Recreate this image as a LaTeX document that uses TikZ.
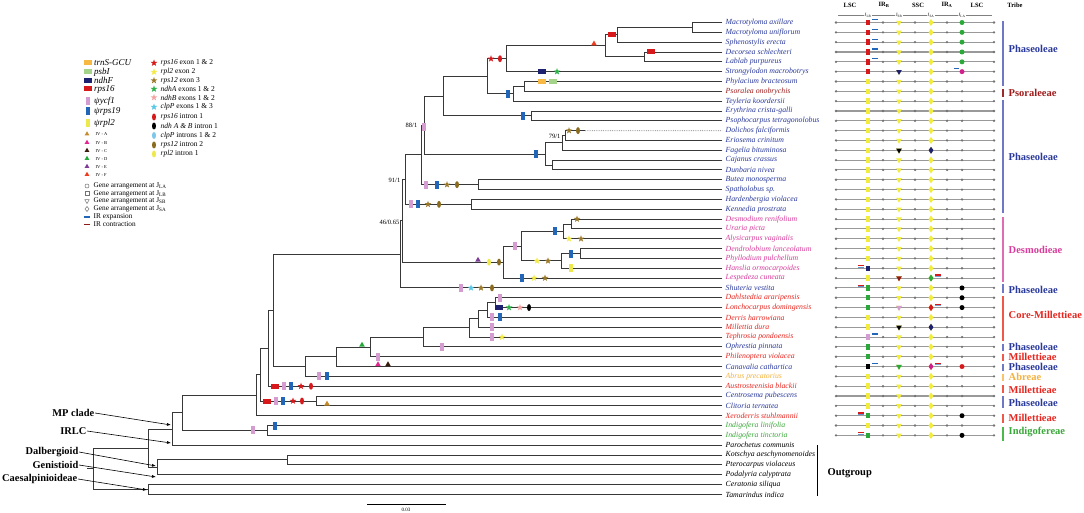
\documentclass[tikz,border=0pt]{standalone}
\usepackage{fontspec}
\setmainfont{Liberation Serif}
\usetikzlibrary{shapes.geometric,arrows.meta}
\definecolor{cPha}{HTML}{2A3A9C}
\definecolor{cPso}{HTML}{A01C1C}
\definecolor{cDes}{HTML}{D83C9C}
\definecolor{cMil}{HTML}{E8261F}
\definecolor{cAbr}{HTML}{F5B13D}
\definecolor{cInd}{HTML}{3AA83A}
\definecolor{bPha}{HTML}{6F78C4}
\definecolor{bPso}{HTML}{9B2B2B}
\definecolor{bDes}{HTML}{E06DB4}
\definecolor{bMil}{HTML}{EE5A4A}
\definecolor{bAbr}{HTML}{F8C46A}
\definecolor{bInd}{HTML}{4DB84D}
\definecolor{ctrnS}{HTML}{F7B844}
\definecolor{cpsbI}{HTML}{A5D38A}
\definecolor{cndhF}{HTML}{1E2170}
\definecolor{crps16}{HTML}{D7191C}
\definecolor{cycf}{HTML}{D59CD2}
\definecolor{crps19}{HTML}{2166B8}
\definecolor{crpl2}{HTML}{EDE84B}
\definecolor{cIVA}{HTML}{C48A2C}
\definecolor{cIVB}{HTML}{E4248F}
\definecolor{cIVC}{HTML}{3B1B0B}
\definecolor{cIVD}{HTML}{25A83A}
\definecolor{cIVE}{HTML}{7D3C98}
\definecolor{cIVF}{HTML}{F03C1E}
\definecolor{cspl2}{HTML}{F3EB45}
\definecolor{cs12}{HTML}{9C7A2B}
\definecolor{cndhA}{HTML}{2DB34A}
\definecolor{cndhB}{HTML}{F5A3A3}
\definecolor{cclp}{HTML}{5BC8E8}
\definecolor{ceclp}{HTML}{7EC6EA}
\definecolor{ce12}{HTML}{8B6B1E}
\definecolor{cY}{HTML}{F2EC3C}
\definecolor{cGr}{HTML}{2AA83A}
\definecolor{cMag}{HTML}{D0208C}
\definecolor{cDR}{HTML}{8E1B1B}
\begin{document}
\begin{tikzpicture}[x=1pt,y=-1pt,
  br/.style={line width=0.9pt, draw=black!78, line cap=rect},
  leaf/.style={anchor=west, inner sep=0.5pt, font=\fontsize{7.8}{9}\selectfont\itshape},
  mk/.style={inner sep=0pt, outer sep=0pt, draw=none},
  hr/.style={mk, rectangle, minimum width=7.5pt, minimum height=5pt},
  vr/.style={mk, rectangle, minimum width=4pt, minimum height=8pt},
  tri/.style={mk, regular polygon, regular polygon sides=3, minimum size=6.5pt},
  st/.style={mk, star, star points=5, star point ratio=2.4, minimum size=7pt},
  el/.style={mk, ellipse, minimum width=4pt, minimum height=7pt},
  sup/.style={anchor=east, inner sep=0.5pt, font=\fontsize{6.5}{7}\selectfont},
  mline/.style={draw=black!40, line width=1.1pt},
  mdot/.style={fill=black!55},
  jlb/.style={mk, rectangle, minimum width=4.8pt, minimum height=5.5pt},
  jsb/.style={mk, regular polygon, regular polygon sides=3, shape border rotate=180, minimum size=6.5pt},
  jsa/.style={mk, diamond, minimum width=5pt, minimum height=7pt},
  jla/.style={mk, circle, minimum size=5pt},
  hdr/.style={inner sep=0.5pt, font=\fontsize{6.5}{7}\selectfont\bfseries},
  jlab/.style={inner sep=0.5pt, font=\fontsize{4.8}{5}\selectfont},
  tribe/.style={anchor=west, inner sep=0.5pt, font=\fontsize{10.5}{11}\selectfont\bfseries},
  clade/.style={anchor=east, inner sep=0.5pt, font=\fontsize{10.4}{11}\selectfont\bfseries},
  arr/.style={draw=black, line width=0.6pt, -{Latex[length=4pt,width=3pt]}},
  lg1/.style={anchor=west, inner sep=0pt, font=\fontsize{9}{9}\selectfont\itshape},
  lg2/.style={anchor=west, inner sep=0.5pt, font=\fontsize{7.5}{8}\selectfont},
  lg3/.style={anchor=west, inner sep=0.5pt, font=\fontsize{4.5}{5}\selectfont},
  lg4/.style={anchor=west, inner sep=0.5pt, font=\fontsize{7.3}{8}\selectfont},
  gsym/.style={mk, draw=black!55, line width=0.5pt, fill=white},
  expd/.style={draw=crps19, line width=1.3pt},
  cond/.style={draw=crps16, line width=1.3pt}
]
\useasboundingbox (0,0) rectangle (1084,513);
\fill[white] (0,0) rectangle (1084,513);

% ---------- leaves ----------
\foreach \i/\nm/\c in {1/Macrotyloma axillare/cPha,2/Macrotyloma uniflorum/cPha,3/Sphenostylis erecta/cPha,4/Decorsea schlechteri/cPha,5/Lablab purpureus/cPha,6/Strongylodon macrobotrys/cPha,7/Phylacium bracteosum/cPha,8/Psoralea onobrychis/cPso,9/Teyleria koordersii/cPha,10/Erythrina crista-galli/cPha,11/Psophocarpus tetragonolobus/cPha,12/Dolichos falciformis/cPha,13/Eriosema crinitum/cPha,14/Fagelia bituminosa/cPha,15/Cajanus crassus/cPha,16/Dunbaria nivea/cPha,17/Butea monosperma/cPha,18/Spatholobus sp./cPha,19/Hardenbergia violacea/cPha,20/Kennedia prostrata/cPha,21/Desmodium renifolium/cDes,22/Uraria picta/cDes,23/Alysicarpus vaginalis/cDes,24/Dendrolobium lanceolatum/cDes,25/Phyllodium pulchellum/cDes,26/Hanslia ormocarpoides/cDes,27/Lespedeza cuneata/cDes,28/Shuteria vestita/cPha,29/Dahlstedtia araripensis/cMil,30/Lonchocarpus domingensis/cMil,31/Derris harrowiana/cMil,32/Millettia dura/cMil,33/Tephrosia pondoensis/cMil,34/Ophrestia pinnata/cPha,35/Philenoptera violacea/cMil,36/Canavalia cathartica/cPha,37/Abrus precatorius/cAbr,38/Austrosteenisia blackii/cMil,39/Centrosema pubescens/cPha,40/Clitoria ternatea/cPha,41/Xeroderris stuhlmannii/cMil,42/Indigofera linifolia/cInd,43/Indigofera tinctoria/cInd,44/Parochetus communis/black,45/Kotschya aeschynomenoides/black,46/Pterocarpus violaceus/black,47/Podalyria calyptrata/black,48/Ceratonia siliqua/black,49/Tamarindus indica/black}{
  \coordinate (l\i) at (722,{22.5+(\i-1)*9.83});
  \node[leaf, text=\c] (t\i) at (725,{22.5+(\i-1)*9.83}) {\nm};
}

% ---------- internal nodes ----------
\coordinate (R) at (93,468.8);
\coordinate (Rs) at (87,468.8);
\coordinate (N148a) at (148,448.1);
\coordinate (N148b) at (148,489.4);
\coordinate (N172) at (172,429.0);
\coordinate (N157) at (157,467.3);
\coordinate (N182) at (182,412.8);
\coordinate (N287) at (287,459.9);
\coordinate (N256) at (256,395.2);
\coordinate (N267) at (267,430.4);
\coordinate (N260) at (260,374.7);
\coordinate (N268) at (268,348.4);
\coordinate (N316) at (316,401.0);
\coordinate (N273) at (273,310.5);
\coordinate (N305) at (305,366.6);
\coordinate (N336) at (336,356.8);
\coordinate (N370) at (370,347.0);
\coordinate (N423b) at (423,337.4);
\coordinate (N469) at (469,327.8);
\coordinate (N478b) at (478,318.6);
\coordinate (N487b) at (487,310.0);
\coordinate (N495) at (495,302.66);
\coordinate (Z) at (400,254.4);
\coordinate (N46) at (402,220.85);
\coordinate (N503) at (503,262.1);
\coordinate (N521) at (521,246.1);
\coordinate (N563b) at (563,231.4);
\coordinate (N571) at (571,224.0);
\coordinate (N561) at (561,260.9);
\coordinate (N580) at (580,253.5);
\coordinate (N91) at (405,179.6);
\coordinate (N471) at (471,204.36);
\coordinate (NX) at (421,154.85);
\coordinate (N478) at (478,184.7);
\coordinate (N88) at (424,125.0);
\coordinate (N545) at (545,153.97);
\coordinate (N563) at (562,142.9);
\coordinate (N565) at (565,135.5);
\coordinate (N552) at (552,165.0);
\coordinate (N443) at (443,96.08);
\coordinate (N531) at (531,115.9);
\coordinate (N487) at (487,76.26);
\coordinate (N513) at (513,93.77);
\coordinate (N524) at (524,86.4);
\coordinate (N506) at (506,58.75);
\coordinate (N605) at (605,45.85);
\coordinate (N617) at (617,34.8);
\coordinate (N644) at (644,56.9);
\coordinate (N692) at (692,27.4);
\coordinate (d12) at (585,130.63);

% ---------- branches ----------
\draw[br] (Rs) -- (R);
\foreach \p/\c in {R/N148a,R/N148b,N148a/N172,N148a/N157,N172/N182,N172/l44,N182/N256,N182/N267,N267/l42,N267/l43,N157/N287,N157/l47,N287/l45,N287/l46,N148b/l48,N148b/l49,N256/N260,N256/l41,N260/N268,N260/N316,N316/l39,N316/l40,N268/N273,N268/l38,N273/Z,N273/N305,N305/N336,N305/l37,N336/N370,N336/l36,N370/N423b,N370/l35,N423b/N469,N423b/l34,N469/N478b,N469/l33,N478b/N487b,N478b/l32,N487b/N495,N487b/l31,N495/l29,N495/l30,Z/N46,Z/l28,N46/N91,N46/N503,N503/N521,N503/l27,N521/N563b,N521/N561,N563b/N571,N563b/l23,N571/l21,N571/l22,N561/N580,N561/l26,N580/l24,N580/l25,N91/NX,N91/N471,N471/l19,N471/l20,NX/N88,NX/N478,N478/l17,N478/l18,N88/N443,N88/N545,N545/N563,N545/N552,N552/l15,N552/l16,N563/N565,N563/l14,N565/d12,N565/l13,N443/N487,N443/N531,N531/l10,N531/l11,N487/N506,N487/N513,N513/N524,N513/l9,N524/l7,N524/l8,N506/N605,N506/l6,N605/N617,N605/N644,N644/l4,N644/l5,N617/N692,N617/l3,N692/l1,N692/l2}{
  \draw[br] (\p) |- (\c);
}
\draw[draw=black!35, line width=0.8pt, densely dotted] (d12) -- (l12);

% ---------- support values ----------
\node[sup] (s88) at (418,125) {88/1};
\node[sup] (s91) at (401,180) {91/1};
\node[sup] (s46) at (400,222) {46/0.65};
\node[sup] (s79) at (561,136) {79/1};

% ---------- branch markers ----------
\foreach \s/\c/\x/\y [count=\n] in {hr/crps16/612/34.8,hr/crps16/651/52.0,tri/cIVF/594/43.8,st/crps16/491/58.75,el/crps16/500/58.75,hr/cndhF/542/71.65,st/cndhA/557/71.65,vr/crps19/508/93.77,hr/ctrnS/542/81.48,hr/cpsbI/553/81.48,vr/crps19/523/115.9,vr/cycf/423.5/127,vr/crps19/536/153.97,st/cs12/569/130.63,el/ce12/578/130.63,vr/cycf/426/184.7,vr/crps19/437/184.7,st/cs12/447/184.7,el/ce12/457/184.7,vr/cycf/411/204.36,vr/crps19/418/204.36,st/cs12/428/204.36,el/ce12/439/204.36,tri/cIVE/478/260.1,el/crpl2/489/262.1,el/ce12/499/262.1,vr/cycf/515/246.1,vr/crps19/555/231.4,st/cs12/577/219.1,st/cspl2/569/238.76,st/cs12/581/238.76,st/cspl2/537/260.9,st/cs12/548/260.9,vr/crps19/571/253.5,vr/crpl2/571/268.25,vr/crps19/522/278.08,st/cspl2/534/278.08,st/cs12/545/278.08,vr/cycf/461/287.91,st/cclp/471/287.91,st/cs12/481/287.91,el/ce12/492/287.91,vr/cycf/500/297.74,hr/cndhF/499/307.57,st/cndhA/509/307.57,st/cndhB/520/307.57,el/black/529/307.57,vr/cycf/492/317.4,vr/crps19/500/317.4,vr/cycf/492/327.23,vr/cycf/492/337.06,st/cspl2/502/337.06,vr/cycf/442/346.89,tri/cIVD/362/345.0,vr/cycf/378/356.72,tri/cIVB/378/364.55,tri/cIVC/388/364.55,vr/cycf/319/376.38,vr/crps19/327/376.38,hr/crps16/275/386.21,vr/cycf/284/386.21,vr/crps19/291/386.21,st/crps16/301/386.21,el/crps16/311/386.21,hr/crps16/267/401.0,vr/cycf/276/401.0,vr/crps19/283/401.0,st/crps16/293/401.0,el/crps16/302/401.0,tri/cIVA/327/403.9,vr/cycf/253/430.4,vr/crps19/275/425.53}{
  \node[\s, fill=\c] (mk\n) at (\x,\y) {};
}

% ---------- matrix ----------
\foreach \i in {1,...,43}{
  \pgfmathsetmacro\yy{22.5+(\i-1)*9.83}
  \draw[mline] (836,\yy) -- (994,\yy);
  \foreach \xx in {836,868,883,899,915,931,947,962,994} \fill[mdot] (\xx,\yy) circle (1.3);
  \node[jlb, fill=cY] (ja\i) at (868,\yy) {};
  \node[jsb, fill=cY] (jb\i) at (899,\yy) {};
  \node[jsa, fill=cY] (jc\i) at (931,\yy) {};
}
% J_LB overrides
\foreach \i/\c in {1/crps16,2/crps16,3/crps16,4/crps16,5/crps16,6/crps16,26/cndhF,28/cGr,29/cGr,30/cGr,33/cycf,34/cGr,35/cGr,36/black,41/cGr,43/cGr}{
  \node[jlb, fill=\c] (oa\i) at (868,{22.5+(\i-1)*9.83}) {};
}
% J_SB overrides
\foreach \i/\c in {6/cndhF,14/black,27/cDR,30/cycf,32/black,36/cGr}{
  \node[jsb, fill=\c] (ob\i) at (899,{22.5+(\i-1)*9.83}) {};
}
% J_SA overrides
\foreach \i/\c in {14/cndhF,27/cGr,30/crps16,32/cndhF,36/cMag}{
  \node[jsa, fill=\c] (oc\i) at (931,{22.5+(\i-1)*9.83}) {};
}
% J_LA markers
\foreach \i/\c in {1/cGr,2/cGr,3/cGr,4/cGr,5/cGr,6/cMag,28/black,29/black,30/black,36/crps16,41/black,43/black}{
  \node[jla, fill=\c] (od\i) at (962,{22.5+(\i-1)*9.83}) {};
}
% IR expansion dashes (right of J_LB)
\foreach \i in {1,2,3,4,5,33,36}{
  \draw[expd] (872,{22.5+(\i-1)*9.83-3}) -- (878,{22.5+(\i-1)*9.83-3});
}
% IR contraction dashes (left of J_LB)
\foreach \i in {26,28,41,43}{
  \draw[draw=crps19!70, line width=0.8pt] (858,{22.5+(\i-1)*9.83-1.2}) -- (864,{22.5+(\i-1)*9.83-1.2});
  \draw[cond] (858,{22.5+(\i-1)*9.83-2.6}) -- (864,{22.5+(\i-1)*9.83-2.6});
}
% dashes at J_SA
\foreach \i in {27,30,36}{
  \draw[draw=crps19!60, line width=0.8pt] (935,{22.5+(\i-1)*9.83-1.8}) -- (941,{22.5+(\i-1)*9.83-1.8});
  \draw[cond] (935,{22.5+(\i-1)*9.83-3.2}) -- (941,{22.5+(\i-1)*9.83-3.2});
}
% dash at J_LA row 6
\draw[expd] (954,{22.5+5*9.83-3}) -- (959,{22.5+5*9.83-3});

% ---------- header ----------
\node[hdr] (hL1) at (850,5) {LSC};
\node[hdr] (hIRB) at (884,5) {IR\textsubscript{B}};
\node[hdr] (hSSC) at (918,5) {SSC};
\node[hdr] (hIRA) at (947,5) {IR\textsubscript{A}};
\node[hdr] (hL2) at (977,5) {LSC};
\node[hdr] (hT) at (1015,5) {Tribe};
\node[jlab] (jLB) at (868,15) {J\textsubscript{LB}};
\node[jlab] (jSB) at (899,15) {J\textsubscript{SB}};
\node[jlab] (jSA) at (931,15) {J\textsubscript{SA}};
\node[jlab] (jLA) at (962,15) {J\textsubscript{LA}};
\coordinate (h0) at (838,15);
\coordinate (h9) at (992,15);
\draw[black!50, line width=0.6pt] (h0) -- (jLB.west);
\draw[black!50, line width=0.6pt] (jLB.east) -- (jSB.west);
\draw[black!50, line width=0.6pt] (jSB.east) -- (jSA.west);
\draw[black!50, line width=0.6pt] (jSA.east) -- (jLA.west);
\draw[black!50, line width=0.6pt] (jLA.east) -- (h9);

% ---------- tribes ----------
\foreach \a/\b/\m/\bc/\tc/\nm [count=\n] in {21/86/49/bPha/cPha/Phaseoleae,89/97/93/bPso/cPso/Psoraleeae,100/213/157/bPha/cPha/Phaseoleae,217/282/250/bDes/cDes/Desmodieae,284/293/290/bPha/cPha/Phaseoleae,296/341/315/bMil/cMil/Core-Millettieae,344/351/347/bPha/cPha/Phaseoleae,354/361/357/bMil/cMil/Millettieae,364/371/367/bPha/cPha/Phaseoleae,374/381/377/bAbr/cAbr/Abreae,385/393/390/bMil/cMil/Millettieae,396/408/403/bPha/cPha/Phaseoleae,414/423/418/bMil/cMil/Millettieae,427/441/432/bInd/cInd/Indigofereae}{
  \draw[draw=\bc, line width=2pt] (1003,\a) -- (1003,\b);
  \node[tribe, text=\tc] (tr\n) at (1008,\m) {\nm};
}
\coordinate (og1) at (817,445);
\coordinate (og2) at (817,496);
\draw[black, line width=1pt] (og1) -- (og2);
\node[tribe] (ogl) at (827,473) {Outgroup};

% ---------- clade labels ----------
\node[clade] (cMP) at (95,413) {MP clade};
\node[clade] (cIR) at (87,431) {IRLC};
\node[clade] (cDal) at (79,452) {Dalbergioid};
\node[clade] (cGen) at (79,465) {Genistioid};
\node[clade] (cCae) at (78,479) {Caesalpinioideae};
\coordinate (aMP) at (171,425);
\coordinate (aIR) at (171,443);
\coordinate (aDal) at (156,466);
\coordinate (aGen) at (156,477);
\coordinate (aCae) at (147,490);
\draw[arr] (cMP.east) -- (aMP);
\draw[arr] (cIR.east) -- (aIR);
\draw[arr] (cDal.east) -- (aDal);
\draw[arr] (cGen.east) -- (aGen);
\draw[arr] (cCae.east) -- (aCae);

% ---------- scale bar ----------
\coordinate (sb1) at (367,504);
\coordinate (sb2) at (446,504);
\draw[black, line width=0.8pt] (sb1) -- (sb2);
\node[inner sep=0.5pt, font=\fontsize{5}{6}\selectfont] (sbl) at (406,510) {0.03};

% ---------- legend ----------
\foreach \s/\c/\y/\t [count=\n] in {hr/ctrnS/63/trnS-GCU,hr/cpsbI/72/psbI,hr/cndhF/80.5/ndhF,hr/crps16/89/rps16,vr/cycf/101/ψycf1,vr/crps19/111.5/ψrps19,vr/crpl2/123/ψrpl2}{
  \node[\s, fill=\c] (lga\n) at (88,\y) {};
  \node[lg1] (lgt\n) at (94,\y) {\t};
}
\foreach \c/\y/\t [count=\n] in {cIVA/134/IV - A,cIVB/142.5/IV - B,cIVC/150.5/IV - C,cIVD/158.5/IV - D,cIVE/166.5/IV - E,cIVF/174.5/IV - F}{
  \node[tri, fill=\c, minimum size=5.5pt] (lgb\n) at (87,\y) {};
  \node[lg3] (lgu\n) at (95,\y+0.5) {\t};
}
\node[gsym, circle, minimum size=4pt] (g1) at (87,186) {};
\node[lg4] (gt1) at (93,186) {Gene arrangement at J\textsubscript{LA}};
\node[gsym, rectangle, minimum width=3.6pt, minimum height=3.6pt] (g2) at (87,193.5) {};
\node[lg4] (gt2) at (93,193.5) {Gene arrangement at J\textsubscript{LB}};
\node[gsym, regular polygon, regular polygon sides=3, shape border rotate=180, minimum size=5pt] (g3) at (87,201) {};
\node[lg4] (gt3) at (93,201) {Gene arrangement at J\textsubscript{SB}};
\node[gsym, diamond, minimum width=4pt, minimum height=5pt] (g4) at (87,209) {};
\node[lg4] (gt4) at (93,209) {Gene arrangement at J\textsubscript{SA}};
\coordinate (ge1) at (84,217);
\coordinate (ge2) at (90,217);
\draw[expd] (ge1) -- (ge2);
\node[lg4] (gt5) at (93,217) {IR expansion};
\coordinate (gc1) at (84,224.5);
\coordinate (gc2) at (90,224.5);
\draw[draw=cDR, line width=1.3pt] (gc1) -- (gc2);
\node[lg4] (gt6) at (93,224.5) {IR contraction};

\foreach \s/\c/\y/\t [count=\n] in {st/crps16/63/{\textit{rps16} exon 1 \& 2},st/cspl2/72/{\textit{rpl2} exon 2},st/cs12/80.5/{\textit{rps12} exon 3},st/cndhA/89/{\textit{ndhA} exons 1 \& 2},st/cndhB/97.5/{\textit{ndhB} exons 1 \& 2},st/cclp/107/{\textit{clpP} exons 1 \& 3},el/crps16/117/{\textit{rps16} intron 1},el/black/126/{\textit{ndh A \& B} intron 1},el/ceclp/135.5/{\textit{clpP} introns 1 \& 2},el/ce12/145/{\textit{rps12} intron 2},el/crpl2/154/{\textit{rpl2} intron 1}}{
  \node[\s, fill=\c] (lgc\n) at (154,\y) {};
  \node[lg2] (lgv\n) at (160,\y) {\t};
}
\end{tikzpicture}
\end{document}
